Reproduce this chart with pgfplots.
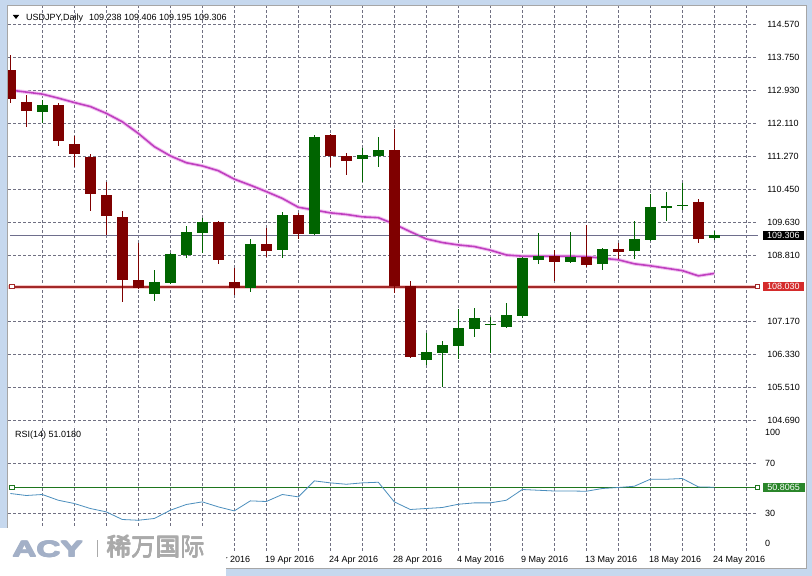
\documentclass[border=0pt]{standalone}
\usepackage{fontspec}
\setmainfont{Liberation Sans}
\newfontfamily\cjk{Noto Sans CJK SC}
\newfontfamily\acyfont{Liberation Sans Bold}
\usepackage{pgfplots}
\usepackage{pgfplotstable}
\pgfplotsset{compat=1.18}

\definecolor{bullc}{HTML}{006400}
\definecolor{bearc}{HTML}{7F0000}
\definecolor{macol}{HTML}{BF40BF}
\definecolor{maglow}{HTML}{F3C4F3}
\definecolor{resl}{HTML}{A32828}
\definecolor{resglow}{HTML}{F5C8C8}
\definecolor{resbox}{HTML}{D42B2B}
\definecolor{rsicol}{HTML}{4B8EBD}
\definecolor{rsil}{HTML}{1E761E}
\definecolor{rsibox}{HTML}{2A862A}
\definecolor{gridc}{HTML}{707082}
\definecolor{bidc}{HTML}{6E6E8C}
\definecolor{framec}{HTML}{C6D8EE}
\definecolor{acyc}{HTML}{A3B0C7}
\definecolor{cjkc}{HTML}{AAAAAA}

\pgfplotstableread{
i O H L C
2 112.39 112.68 112.10 112.55
9 107.85 108.45 107.68 108.15
10 108.12 108.87 108.10 108.85
11 108.82 109.54 108.74 109.39
12 109.38 109.73 108.88 109.64
15 108.00 109.22 107.89 109.09
17 108.94 109.89 108.75 109.81
19 109.35 111.82 109.31 111.77
22 111.20 111.49 110.65 111.31
23 111.29 111.75 111.02 111.44
26 106.19 106.87 106.08 106.39
27 106.38 106.68 105.54 106.58
28 106.56 107.47 106.22 106.99
29 106.98 107.51 106.78 107.25
30 107.09 107.28 106.37 107.11
31 107.03 107.63 107.01 107.32
32 107.30 108.78 107.26 108.74
33 108.70 109.38 108.59 108.80
35 108.65 109.39 108.61 108.76
37 108.60 109.00 108.45 108.97
39 108.91 109.67 108.71 109.22
40 109.20 110.33 109.18 110.02
41 110.01 110.40 109.67 110.04
42 110.04 110.61 109.94 110.07
44 109.238 109.406 109.195 109.306
}\bull

\pgfplotstableread{
i O H L C
0 113.43 113.80 112.60 112.72
1 112.63 112.81 112.00 112.42
3 112.56 112.60 111.54 111.67
4 111.58 111.79 111.02 111.33
5 111.27 111.33 109.92 110.33
6 110.32 110.63 109.32 109.78
7 109.76 109.92 107.66 108.19
8 108.20 109.11 107.98 108.00
13 109.64 109.66 108.59 108.70
14 108.15 108.49 107.82 108.00
16 109.09 109.50 108.78 108.93
18 109.81 109.86 109.23 109.35
20 111.81 111.83 111.01 111.29
21 111.28 111.37 110.82 111.17
24 111.44 111.95 107.86 108.05
25 108.05 108.18 106.26 106.28
34 108.80 108.94 108.18 108.64
36 108.76 109.56 108.51 108.57
38 108.97 109.11 108.72 108.90
43 110.14 110.22 109.11 109.23
}\bear

\pgfplotstableread{
i m
0 112.93
1 112.88
2 112.83
3 112.73
4 112.62
5 112.52
6 112.35
7 112.14
8 111.85
9 111.52
10 111.29
11 111.12
12 111.04
13 110.92
14 110.71
15 110.56
16 110.40
17 110.23
18 110.01
19 109.94
20 109.87
21 109.83
22 109.77
23 109.75
24 109.59
25 109.40
26 109.22
27 109.13
28 109.07
29 109.03
30 108.94
31 108.82
32 108.79
33 108.79
34 108.79
35 108.79
36 108.78
37 108.74
38 108.70
39 108.60
40 108.55
41 108.49
42 108.43
43 108.30
44 108.36
}\ma

\pgfplotstableread{
i r
0 46.0
1 44.4
2 45.2
3 40.6
4 38.0
5 34.0
6 31.3
7 25.2
8 24.6
9 26.0
10 32.6
11 37.2
12 39.3
13 35.3
14 32.1
15 40.1
16 39.6
17 45.2
18 43.3
19 56.1
20 54.5
21 53.4
22 54.5
23 55.0
24 39.3
25 33.2
26 34.0
27 34.8
28 37.4
29 38.5
30 38.5
31 40.6
32 49.2
33 48.6
34 48.0
35 48.0
36 47.8
37 50.0
38 50.8
39 51.8
40 57.4
41 57.4
42 58.0
43 51.3
44 51.0
}\rsi

\pgfplotsset{
  chartbase/.style={
    scale only axis, anchor=south west, width=750pt,
    xmin=-0.1438, xmax=46.73,
    axis line style={draw=none}, major tick length=0pt, tick style={draw=none},
    xtick={2,4,...,46},
    grid=major, major grid style={gridc, line width=0.7pt, dash pattern=on 3pt off 2pt},
    clip mode=individual,
    yticklabel pos=right,
    ticklabel style={font=\fontsize{9}{10}\selectfont},
    /pgf/number format/assume math mode=true,
  },
  wick/.style={draw=none, mark=none, forget plot, error bars/.cd, y dir=both, y explicit, error mark=none,
    error bar style={line width=1pt, draw=#1, solid}},
  body/.style={draw=none, mark=none, forget plot, error bars/.cd, y dir=both, y explicit, error mark=none,
    error bar style={line width=10.7pt, draw=#1, solid}},
}

\begin{document}
\begin{tikzpicture}[x=1pt,y=1pt]
\fill[framec] (0,0) rectangle (812,576);
\fill[white] (8,8) rectangle (806,570);
\draw[gray!70, line width=0.6pt] (7.7,7.7) rectangle (806,570.3);

% ---------- price panel ----------
\begin{axis}[chartbase,
  at={(8pt,153pt)}, height=417pt,
  ymin=104.632, ymax=115.026,
  xticklabels={},
  ytick={104.69,105.5133,106.3367,107.16,107.9833,108.8067,109.63,110.4533,111.2767,112.1,112.9233,113.7467,114.57},
  yticklabels={104.690,105.510,106.330,107.170,,108.810,109.630,110.450,111.270,112.110,112.930,113.750,114.570},
  yticklabel style={anchor=west, inner sep=0pt, xshift=9.2pt},
]
\addplot[maglow, line width=3.6pt] table[x=i, y=m] {\ma};
\addplot[macol, line width=1.6pt] table[x=i, y=m] {\ma};
\addplot[bidc, line width=0.8pt] coordinates {(-0.02,109.306) (46.73,109.306)};
\addplot[resglow, line width=4pt] coordinates {(-0.1438,108.03) (46.73,108.03)};
\addplot[resl, line width=1.8pt] coordinates {(0.106,108.03) (46.71,108.03)};

\addplot[wick=bullc] table[x=i, y expr={0.5*(\thisrow{H}+\thisrow{L})}, y error expr={0.5*(\thisrow{H}-\thisrow{L})}] {\bull};
\addplot[body=bullc] table[x=i, y expr={0.5*(\thisrow{O}+\thisrow{C})}, y error expr={max(0.5*abs(\thisrow{C}-\thisrow{O}),0.012)}] {\bull};
\addplot[wick=bearc] table[x=i, y expr={0.5*(\thisrow{H}+\thisrow{L})}, y error expr={0.5*(\thisrow{H}-\thisrow{L})}] {\bear};
\addplot[body=bearc] table[x=i, y expr={0.5*(\thisrow{O}+\thisrow{C})}, y error expr={max(0.5*abs(\thisrow{C}-\thisrow{O}),0.012)}] {\bear};

\addplot[only marks, mark=square*, mark size=2.2pt, mark options={fill=white, draw=resl, line width=1pt}] coordinates {(0.106,108.03) (46.71,108.03)};

\node[fill=black, text=white, anchor=west, inner sep=0pt, minimum width=41pt, minimum height=9.6pt,
      font=\fontsize{9}{10}\selectfont, xshift=4.7pt] at (axis cs:46.73,109.306) {109.306};
\node[fill=resbox, text=white, anchor=west, inner sep=0pt, minimum width=41pt, minimum height=9.6pt,
      font=\fontsize{9}{10}\selectfont, xshift=4.7pt] at (axis cs:46.73,108.03) {108.030};
\end{axis}

% ---------- RSI panel ----------
\begin{axis}[chartbase,
  at={(8pt,25pt)}, height=125pt,
  ymin=0, ymax=100,
  ytick={30,70}, yticklabels={30,70},
  yticklabel style={anchor=west, inner sep=0pt, xshift=7pt},
  xticklabels={,,,,,14 Apr 2016,,19 Apr 2016,,24 Apr 2016,,28 Apr 2016,,4 May 2016,,9 May 2016,,13 May 2016,,18 May 2016,,24 May 2016,},
  xticklabel style={anchor=north west, inner sep=0pt, xshift=-1.5pt, yshift=-5pt},
]
\addplot[rsil, line width=1.8pt] coordinates {(0.106,50.8065) (46.71,50.8065)};
\addplot[rsicol, line width=0.8pt] table[x=i, y=r] {\rsi};
\addplot[only marks, mark=square*, mark size=2.2pt, mark options={fill=white, draw=rsil, line width=1pt}] coordinates {(0.106,50.8065) (46.71,50.8065)};
\node[fill=rsibox, text=white, anchor=west, inner sep=0pt, minimum width=41.6pt, minimum height=9.6pt,
      font=\fontsize{9}{10}\selectfont, xshift=4.7pt] at (axis cs:46.73,50.8065) {50.8065};
\end{axis}

% ---------- texts ----------
\fill[black] (12.8,561) -- (19.2,561) -- (16,557) -- cycle;
\node[anchor=base west, inner sep=0pt, font=\fontsize{9}{10}\selectfont] at (26,555.8)
  {USDJPY,Daily\hspace{6pt}109.238 109.406 109.195 109.306};
\node[anchor=base west, inner sep=0pt, font=\fontsize{9}{10}\selectfont] at (15,138.5) {RSI(14) 51.0180};
\node[anchor=west, inner sep=0pt, font=\fontsize{9}{10}\selectfont] at (765,143.3) {100};
\node[anchor=west, inner sep=0pt, font=\fontsize{9}{10}\selectfont] at (765,32.7) {0};

% ---------- logo ----------
\fill[white] (0,0) rectangle (226,48);
\foreach \dx/\dy in {0/0, 0.7/0, 1.4/0, 0/0.7, 0.7/0.7, 1.4/0.7} {
  \node[anchor=base west, inner sep=0pt, text=acyc, font=\acyfont\fontsize{22.5}{24}\selectfont, xscale=1.48]
    at (11.5+\dx,18.7+\dy) {ACY};
}
\fill[cjkc] (96.6,19) rectangle (98,35.5);
\foreach \dx/\dy in {0/0, 0.6/0, 0/0.6, 0.6/0.6} {
  \node[anchor=base west, inner sep=0pt, text=cjkc, font=\cjk\fontsize{24.5}{26}\selectfont]
    at (106.5+\dx,19.5+\dy) {稀万国际};
}
\end{tikzpicture}
\end{document}
